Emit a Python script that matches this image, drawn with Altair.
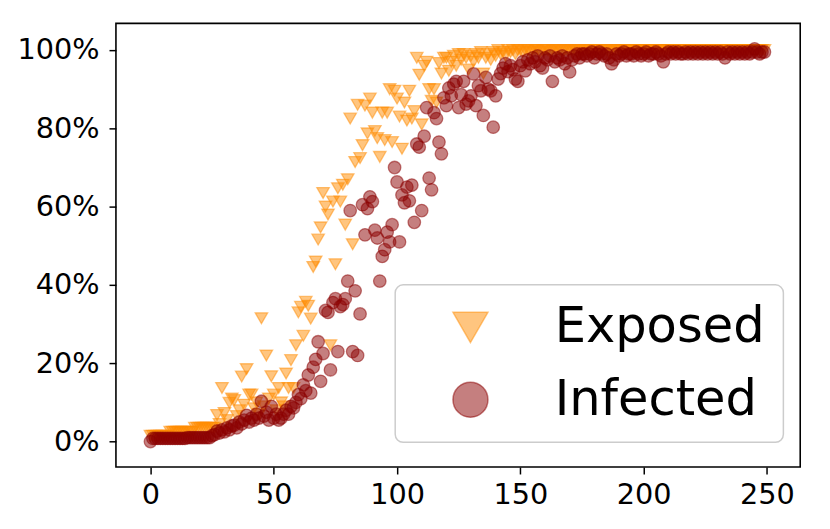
import altair as alt
import pandas as pd

# time steps
days = list(range(250))

# Exposed share (%) per time step
exposed = [
    1.5, 1.5, 1.5, 1.5, 1.5, 1.5, 1.5, 1.5, 2.5, 2.5,
    2.5, 2.5, 2.5, 2.5, 2.5, 2.5, 2.5, 2.5, 3.5, 3.5,
    3.5, 3.5, 3.5, 3.5, 3.5, 3.5, 3.5, 6.8, 4.5, 13.7,
    7.3, 5.5, 9.9, 11.0, 10.6, 6.5, 8.0, 16.6, 9.4, 18.5,
    12.0, 12.0, 8.5, 10.0, 7.0, 31.5, 9.0, 22.0, 11.0, 16.7,
    12.0, 8.0, 13.7, 10.0, 9.0, 17.4, 13.7, 20.8, 13.7, 24.6,
    33.0, 34.4, 27.0, 35.7, 34.7, 31.4, 44.6, 46.0, 51.6, 54.7,
    63.5, 60.0, 58.0, 24.6, 61.3, 45.3, 64.7, 61.3, 65.6, 55.4,
    67.0, 82.5, 50.4, 71.4, 86.0, 72.4, 75.7, 85.8, 78.7, 87.6,
    84.0, 79.3, 77.5, 72.7, 84.0, 77.0, 84.0, 90.0, 76.5, 89.6,
    87.6, 83.0, 74.8, 86.6, 82.0, 89.6, 82.5, 84.4, 98.0, 93.7,
    81.0, 96.0, 97.0, 90.0, 87.0, 90.0, 86.6, 96.7, 94.0, 98.0,
    98.0, 94.7, 97.0, 98.5, 96.0, 99.0, 97.5, 99.0, 98.0, 95.0,
    98.5, 97.0, 99.0, 98.0, 99.5, 94.0, 98.0, 99.0, 97.5, 99.5,
    98.5, 100, 99.0, 99.5, 98.5, 100, 99.5, 100, 99.0, 100,
    100, 99.5, 100, 100, 99.5, 100, 100, 100, 99.5, 100,
    100, 100, 99.5, 100, 100, 100, 100, 99.5, 100, 100,
    100, 100, 100, 99.5, 100, 100, 100, 100, 100, 99.5,
    100, 100, 100, 100, 100, 100, 99.5, 100, 100, 100,
    100, 100, 100, 100, 100, 100, 100, 100, 100, 100,
    100, 100, 100, 100, 100, 100, 100, 100, 100, 100,
    100, 100, 100, 100, 100, 100, 100, 100, 100, 100,
    100, 100, 100, 100, 100, 100, 100, 100, 100, 100,
    100, 100, 100, 100, 100, 100, 100, 100, 100, 100,
    100, 100, 100, 100, 100, 100, 100, 100, 100, 100,
]

# Infected share (%) per time step
infected = [
    0.0, 0.8, 0.8, 0.8, 0.8, 0.8, 0.8, 0.8, 0.8, 0.8,
    0.8, 0.8, 0.8, 0.8, 0.8, 1.0, 1.0, 1.0, 1.0, 1.0,
    1.0, 1.0, 1.0, 1.0, 1.0, 1.5, 1.8, 2.7, 2.2, 3.0,
    2.5, 3.5, 3.0, 4.0, 4.2, 3.5, 5.0, 4.5, 5.5, 6.7,
    5.0, 6.0, 5.5, 7.0, 6.0, 10.3, 6.5, 7.5, 5.5, 9.0,
    6.0, 7.0, 5.5, 6.0, 7.0, 8.0, 7.0, 9.0, 8.6, 10.0,
    12.0, 11.0, 14.5, 13.0, 17.0, 12.4, 19.0, 21.0, 25.5, 15.4,
    22.5, 33.5, 33.0, 18.3, 35.5, 36.5, 23.0, 34.5, 35.0, 36.5,
    41.0, 59.0, 23.0, 38.5, 22.0, 32.6, 60.5, 52.8, 59.5, 62.5,
    61.3, 54.0, 52.0, 41.0, 47.3, 49.0, 53.5, 51.0, 55.4, 70.0,
    66.3, 51.0, 63.0, 61.0, 65.0, 61.5, 65.5, 56.0, 76.0, 75.2,
    59.0, 78.0, 85.3, 67.3, 64.3, 84.0, 82.5, 76.5, 73.5, 87.8,
    85.8, 90.3, 88.3, 91.3, 92.0, 85.3, 88.6, 92.0, 86.2, 87.0,
    88.3, 93.9, 85.8, 90.9, 89.6, 83.3, 93.0, 90.0, 89.6, 80.3,
    88.3, 92.6, 94.0, 95.4, 96.5, 94.5, 96.0, 95.0, 92.6, 92.0,
    96.0, 97.0, 94.7, 97.5, 96.5, 98.0, 97.0, 98.5, 96.0, 95.4,
    98.0, 97.5, 98.5, 92.0, 97.0, 98.0, 97.5, 98.5, 96.5, 98.0,
    94.4, 97.5, 98.5, 99.0, 98.0, 99.0, 99.0, 98.5, 99.0, 99.5,
    98.0, 99.0, 99.5, 99.0, 98.5, 99.0, 98.0, 96.5, 97.5, 99.0,
    98.5, 99.0, 99.5, 98.5, 99.0, 99.0, 98.5, 99.5, 99.0, 98.5,
    99.0, 99.5, 98.5, 99.0, 99.0, 99.5, 99.0, 98.5, 97.0, 99.0,
    99.5, 99.0, 99.5, 99.0, 99.5, 99.0, 99.0, 99.5, 99.0, 99.5,
    99.0, 99.5, 99.0, 99.5, 99.0, 99.5, 99.0, 99.5, 99.0, 99.5,
    99.0, 99.5, 99.0, 98.0, 99.5, 99.0, 99.5, 99.0, 99.5, 99.0,
    99.5, 99.0, 99.5, 99.0, 99.5, 100.3, 99.5, 99.0, 99.5, 99.5,
]

series_names = ["Exposed", "Infected"]
# darkorange and darkred, each at half alpha
series_colors = ["rgba(255,140,0,0.5)", "rgba(139,0,0,0.5)"]
series_shapes = ["triangle-down", "circle"]
x_ticks = [0, 50, 100, 150, 200, 250]
y_ticks = [0, 0.2, 0.4, 0.6, 0.8, 1.0]

df = pd.DataFrame({
    "t": days + days,
    "v": [e / 100 for e in exposed] + [i / 100 for i in infected],
    "series": [series_names[0]] * len(exposed) + [series_names[1]] * len(infected),
})

FONT = "DejaVu Sans"

color_scale = alt.Scale(domain=series_names, range=series_colors)
leg = alt.Legend(title=None, orient="none", legendX=282, legendY=264)

chart = alt.Chart(df).mark_point(
    filled=True, size=160, opacity=1, fillOpacity=1, strokeOpacity=1, strokeWidth=1.3
).encode(
    x=alt.X("t:Q", scale=alt.Scale(domain=[-14, 263.5], nice=False, zero=False),
            axis=alt.Axis(values=x_ticks, title=None, format="d")),
    y=alt.Y("v:Q", scale=alt.Scale(domain=[-0.065, 1.068], nice=False, zero=False),
            axis=alt.Axis(values=y_ticks, title=None, format=".0%", labelPadding=10)),
    color=alt.Color("series:N", scale=color_scale, legend=leg),
    stroke=alt.Stroke("series:N", scale=color_scale, legend=leg),
    shape=alt.Shape("series:N", scale=alt.Scale(domain=series_names, range=series_shapes),
                    legend=leg),
    order=alt.Order("series:N"),
).properties(
    width=691, height=448,
    autosize=alt.AutoSizeParams(type="none"),
    padding={"left": 109, "top": 13, "right": 22, "bottom": 60},
).configure_view(
    stroke="black", strokeWidth=1.6
).configure_axis(
    domain=False, grid=False, ticks=True, tickSize=7, tickWidth=1.5, tickColor="black",
    labelFont=FONT, labelFontSize=29, labelColor="black", labelPadding=7,
).configure_legend(
    labelFont=FONT, labelFontSize=50, labelColor="black", labelLimit=500,
    symbolSize=1250, symbolStrokeWidth=1.5, padding=18, rowPadding=23,
    symbolOffset=33, labelOffset=60,
    strokeColor="#cccccc", fillColor="rgba(255,255,255,0.8)", cornerRadius=8,
    strokeWidth=1.5,
)

chart.save("out.html", embed_options={"renderer": "svg", "actions": False})
